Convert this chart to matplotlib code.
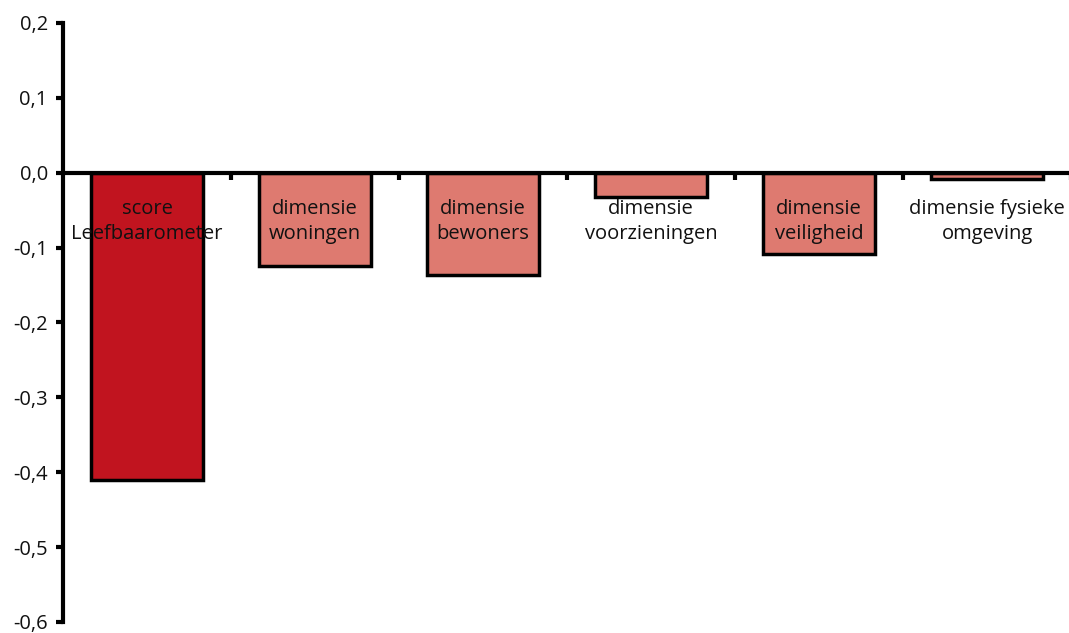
import numpy as np
import matplotlib
matplotlib.use("Agg")
import matplotlib.pyplot as plt
from matplotlib.ticker import FuncFormatter

categories = ["score\nLeefbaarometer", "dimensie\nwoningen", "dimensie\nbewoners",
              "dimensie\nvoorzieningen", "dimensie\nveiligheid", "dimensie fysieke\nomgeving"]
values = [-0.411, -0.125, -0.136, -0.032, -0.108, -0.009]
colors = ["#C1141F", "#DE7A70", "#DE7A70", "#DE7A70", "#DE7A70", "#DE7A70"]
yticks = [0.2, 0.1, 0.0, -0.1, -0.2, -0.3, -0.4, -0.5, -0.6]

plt.rcParams["font.family"] = ["Open Sans", "DejaVu Sans"]

fig = plt.figure(figsize=(10.69, 6.33), dpi=100)
ax = fig.add_axes([0.059, 0.0174, 0.943, 0.9463])

x = np.arange(len(values))
ax.bar(x, values, width=0.67, color=colors, edgecolor="black", linewidth=2.5, zorder=2)
ax.set_axisbelow(False)

ax.set_xlim(-0.5, len(values) - 0.5)
ax.set_ylim(-0.6, 0.2)
ax.set_yticks(yticks)
ax.yaxis.set_major_formatter(FuncFormatter(lambda v, p: f"{v:.1f}".replace(".", ",").replace("-0,0", "0,0")))

for s in ("top", "right"):
    ax.spines[s].set_visible(False)
ax.spines["bottom"].set_position(("data", 0))
ax.spines["bottom"].set_linewidth(3)
ax.spines["left"].set_linewidth(3)
ax.spines["bottom"].set_zorder(3)

# category boundaries as major ticks, labels on minor ticks
ax.set_xticks(np.append(x[:-1] + 0.5, len(values) - 0.5))
ax.set_xticklabels([])
ax.set_xticks(x, minor=True)
ax.set_xticklabels(categories, minor=True, fontsize=14.5, color="#111111", linespacing=1.32)
ax.tick_params(axis="x", which="major", direction="out", length=5, width=3)
ax.tick_params(axis="x", which="minor", length=0, pad=19)
ax.tick_params(axis="y", direction="out", length=5, width=3, labelsize=14.5, pad=6,
               labelcolor="#111111")

fig.savefig("out.png", dpi=100)
